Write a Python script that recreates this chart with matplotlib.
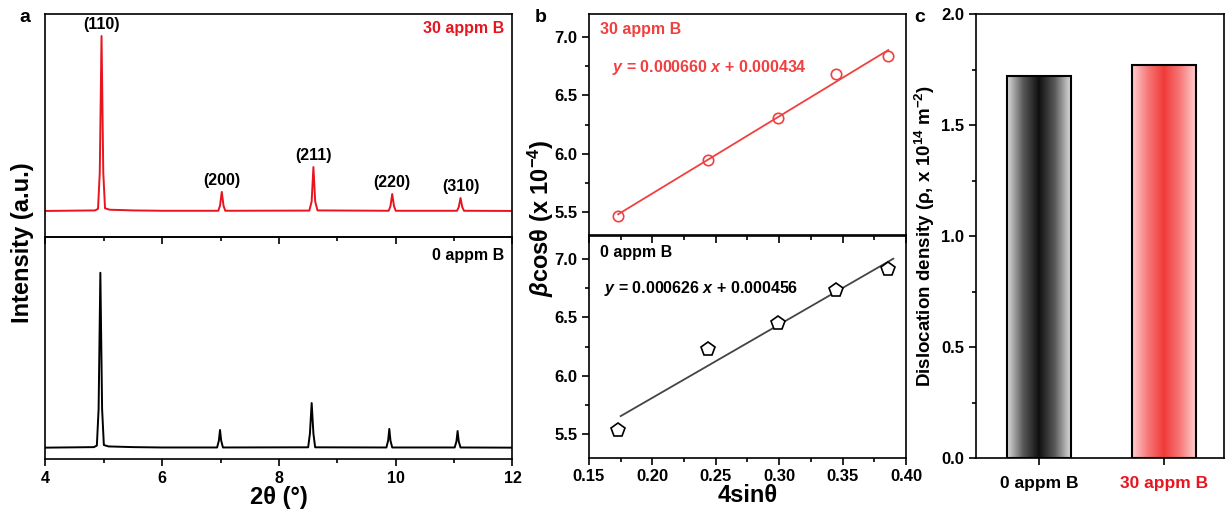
import numpy as np
import matplotlib
matplotlib.use("Agg")
import matplotlib.pyplot as plt
from matplotlib.colors import LinearSegmentedColormap
from matplotlib.ticker import MultipleLocator

plt.rcParams['font.family'] = ['Liberation Sans', 'DejaVu Sans']
plt.rcParams['font.weight'] = 'bold'
plt.rcParams['axes.linewidth'] = 1.2
plt.rcParams['mathtext.fontset'] = 'custom'
plt.rcParams['mathtext.rm'] = 'Liberation Sans:bold'
plt.rcParams['mathtext.it'] = 'Liberation Sans:italic:bold'
plt.rcParams['mathtext.bf'] = 'Liberation Sans:bold'

RED = '#e8141e'
RED_B = '#f04040'

# ---- panel a: XRD traces (2theta, intensity a.u.)
tt_30 = [4.00, 4.85, 4.90, 4.93, 4.96, 4.99, 5.02, 5.10, 5.50, 6.00,
         6.96, 6.99, 7.02, 7.05, 7.08, 8.52, 8.56, 8.59, 8.62, 8.66,
         9.88, 9.91, 9.94, 9.97, 10.00, 11.05, 11.08, 11.11, 11.14, 11.17, 12.00]
int_30 = [0.0, 0.3, 1.2, 22.0, 100.0, 22.0, 1.5, 0.7, 0.3, 0.1,
          0.1, 3.0, 10.9, 3.0, 0.1, 0.2, 5.5, 25.1, 5.5, 0.3,
          0.1, 2.8, 9.7, 2.8, 0.1, 0.1, 2.2, 7.4, 2.2, 0.1, 0.0]

tt_0 = [4.00, 4.83, 4.88, 4.91, 4.94, 4.97, 5.00, 5.08, 5.50, 6.00,
        6.94, 6.97, 6.99, 7.01, 7.04, 8.50, 8.53, 8.56, 8.59, 8.62,
        9.84, 9.87, 9.89, 9.91, 9.94, 11.01, 11.04, 11.06, 11.08, 11.11, 12.00]
int_0 = [0.0, 0.3, 1.2, 22.0, 100.0, 22.0, 1.5, 0.7, 0.3, 0.1,
         0.1, 4.0, 10.1, 4.0, 0.1, 0.2, 8.0, 25.5, 8.0, 0.2,
         0.1, 4.0, 10.7, 4.0, 0.1, 0.1, 3.5, 9.5, 3.5, 0.1, 0.0]

peak_labels = ['(110)', '(200)', '(211)', '(220)', '(310)']
peak_pos_30 = [4.96, 7.02, 8.59, 9.94, 11.11]
peak_int_30 = [100.0, 10.9, 25.1, 9.7, 7.4]

# ---- panel b: Williamson-Hall
wh_x = [0.173, 0.244, 0.299, 0.345, 0.386]
wh_30 = [5.47, 5.95, 6.31, 6.68, 6.84]
wh_0 = [5.54, 6.23, 6.45, 6.73, 6.91]
fit_30 = (6.60, 4.34)   # slope, intercept (x 1e-4)
fit_0 = (6.26, 4.56)
fit_x_30 = [0.173, 0.386]
fit_x_0 = [0.175, 0.390]

# ---- panel c: dislocation density
samples = ['0 appm B', '30 appm B']
density = [1.72, 1.77]

fig = plt.figure(figsize=(12.26, 5.15), dpi=100)

# panel a
axa1 = fig.add_axes([0.0371, 0.5398, 0.3809, 0.433])
axa2 = fig.add_axes([0.0371, 0.1087, 0.3809, 0.431])
axa2.set_facecolor('none')
axa1.plot(tt_30, int_30, color=RED, lw=1.4)
axa2.plot(tt_0, int_0, color='black', lw=1.4)
axa1.set_ylim(-14.9, 112.6)
axa2.set_ylim(-6.5, 120.4)
for ax in (axa1, axa2):
    ax.set_xlim(4, 12)
    ax.set_yticks([])
    ax.xaxis.set_major_locator(MultipleLocator(2))
    ax.xaxis.set_minor_locator(MultipleLocator(1))
    ax.tick_params(axis='x', which='both', direction='out', width=1.2)
    ax.tick_params(axis='x', which='major', length=5, labelsize=11.5)
    ax.tick_params(axis='x', which='minor', length=3)
axa1.tick_params(axis='x', labelbottom=False)
for lab, px, py in zip(peak_labels, peak_pos_30, peak_int_30):
    axa1.annotate(lab, (px, py), xytext=(0, 3), textcoords='offset points',
                  ha='center', va='bottom', fontsize=11.5, fontweight='bold')
axa1.text(0.982, 0.933, '30 appm B', color=RED, transform=axa1.transAxes,
          ha='right', va='center', fontsize=11.5, fontweight='bold')
axa2.text(0.982, 0.919, '0 appm B', color='black', transform=axa2.transAxes,
          ha='right', va='center', fontsize=11.5, fontweight='bold')
axa2.set_xlabel('2θ (°)', fontsize=17, fontweight='bold', labelpad=0)
fig.text(22.5 / 1226, 1 - 243 / 515, 'Intensity (a.u.)', rotation=90,
         ha='center', va='center', fontsize=17, fontweight='bold')
fig.text(25 / 1226, 1 - 17 / 515, 'a', ha='center', va='center',
         fontsize=14, fontweight='bold')

# panel b
axb1 = fig.add_axes([0.4804, 0.5427, 0.2586, 0.431])
axb2 = fig.add_axes([0.4804, 0.1113, 0.2586, 0.4315])
axb2.set_facecolor('none')
xs = np.array(fit_x_30)
axb1.plot(xs, fit_30[0] * xs + fit_30[1], color=RED_B, lw=1.3, zorder=2)
axb1.plot(wh_x, wh_30, 'o', mfc='none', mec=RED_B, ms=7.5, mew=1.2, zorder=3)
xs = np.array(fit_x_0)
axb2.plot(xs, fit_0[0] * xs + fit_0[1], color='#444444', lw=1.3, zorder=2)
axb2.plot(wh_x, wh_0, 'p', mfc='white', mec='black', ms=10, mew=1.2, zorder=3)
for ax in (axb1, axb2):
    ax.set_xlim(0.15, 0.40)
    ax.set_ylim(5.3, 7.2)
    ax.xaxis.set_major_locator(MultipleLocator(0.05))
    ax.xaxis.set_minor_locator(MultipleLocator(0.025))
    ax.yaxis.set_major_locator(MultipleLocator(0.5))
    ax.yaxis.set_minor_locator(MultipleLocator(0.25))
    ax.tick_params(which='both', direction='out', width=1.2, labelsize=12)
    ax.tick_params(which='major', length=5)
    ax.tick_params(which='minor', length=3)
    for t in ax.get_xticklabels() + ax.get_yticklabels():
        t.set_fontweight('bold')
axb1.tick_params(axis='x', labelbottom=False)
axb1.text(0.035, 0.926, '30 appm B', color=RED_B, transform=axb1.transAxes,
          ha='left', va='center', fontsize=11.5, fontweight='bold')
axb1.text(0.072, 0.759, r'$\it{y}$ = 0.000660 $\it{x}$ + 0.000434', color=RED_B,
          transform=axb1.transAxes, ha='left', va='center', fontsize=11.5)
axb2.text(0.035, 0.923, '0 appm B', color='black', transform=axb2.transAxes,
          ha='left', va='center', fontsize=11.5, fontweight='bold')
axb2.text(0.047, 0.762, r'$\it{y}$ = 0.000626 $\it{x}$ + 0.000456', color='black',
          transform=axb2.transAxes, ha='left', va='center', fontsize=11.5)
axb2.set_xlabel('4sinθ', fontsize=17, fontweight='bold', labelpad=0)
fig.text(541 / 1226, 1 - 218 / 515, r'$\it{\beta}$cosθ (x 10$^{-4}$)', rotation=90,
         ha='center', va='center', fontsize=17, fontweight='bold')
fig.text(541 / 1226, 1 - 17 / 515, 'b', ha='center', va='center',
         fontsize=14, fontweight='bold')

# panel c
axc = fig.add_axes([0.7961, 0.1101, 0.2023, 0.8627])
pos = np.arange(len(samples))
width = 0.506
bars = axc.bar(pos, density, width=width, facecolor='none', edgecolor='black',
               lw=1.5, zorder=3)
grad = np.abs(np.linspace(-1, 1, 256)).reshape(1, -1)
cmaps = [LinearSegmentedColormap.from_list('g', ['#101010', '#5a5a5a', '#dcdcdc']),
         LinearSegmentedColormap.from_list('r', ['#f03a3a', '#f77878', '#ffcece'])]
for b, cm in zip(bars, cmaps):
    x0, w, h = b.get_x(), b.get_width(), b.get_height()
    axc.imshow(grad, extent=(x0, x0 + w, 0, h), aspect='auto', cmap=cm,
               zorder=2, interpolation='bilinear')
axc.set_xlim(-0.504, 1.48)
axc.set_ylim(0, 2.0)
axc.set_xticks(pos)
axc.set_xticklabels(samples, fontsize=12.5, fontweight='bold')
axc.get_xticklabels()[1].set_color(RED)
axc.yaxis.set_major_locator(MultipleLocator(0.5))
axc.yaxis.set_minor_locator(MultipleLocator(0.25))
axc.tick_params(which='both', direction='out', width=1.2)
axc.tick_params(axis='y', which='major', length=5, labelsize=12)
axc.tick_params(axis='y', which='minor', length=3)
axc.tick_params(axis='x', length=5, pad=8)
for t in axc.get_yticklabels():
    t.set_fontweight('bold')
axc.set_ylabel('Dislocation density (ρ, x 10$^{14}$ m$^{-2}$)',
               fontsize=13.5, fontweight='bold', labelpad=3)
fig.text(920 / 1226, 1 - 17 / 515, 'c', ha='center', va='center',
         fontsize=14, fontweight='bold')

fig.savefig('out.png', dpi=100)
